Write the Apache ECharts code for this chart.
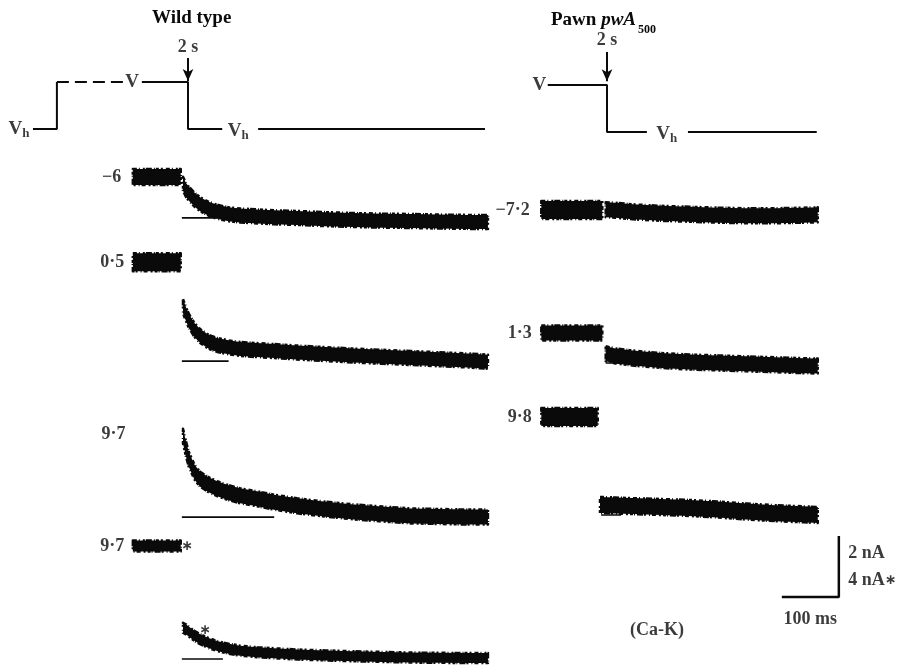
<!DOCTYPE html>
<html><head><meta charset="utf-8">
<script src="https://cdn.jsdelivr.net/npm/echarts@6/dist/echarts.min.js"></script>
<style>html,body{margin:0;padding:0;background:#fff}#c{width:905px;height:667px}</style>
</head><body><div id="c"></div>
<script>
// ---------- data (time in ms relative to the step back to Vh at 2 s; current in nA) ----------
// Wild type
const wtPreTime = [-88, -4];
const wtPostTime = [0, 5, 10, 20, 30, 45, 60, 80, 100, 130, 160, 200, 250, 300, 350, 400, 450, 500, 535];
const wtLabels = ['−6', '0·5', '9·7', '9·7'];
const wtPre_m6 = [1.34, 1.34];
const wtPre_05 = [3.24, 3.24];
const wtPre_97s = [7.4, 7.4];            // trace marked *, 4 nA per scale bar
const wtPost_m6 = [1.12, 0.92, 0.80, 0.60, 0.45, 0.30, 0.20, 0.12, 0.08, 0.05, 0.02, 0.0, -0.04, -0.07, -0.09, -0.10, -0.12, -0.13, -0.13];
const wtPost_05 = [1.80, 1.55, 1.33, 1.02, 0.82, 0.63, 0.53, 0.45, 0.40, 0.36, 0.33, 0.28, 0.23, 0.18, 0.14, 0.10, 0.06, 0.02, -0.02];
const wtPost_97 = [2.65, 2.25, 1.90, 1.48, 1.24, 1.06, 0.93, 0.80, 0.70, 0.60, 0.49, 0.37, 0.26, 0.17, 0.10, 0.04, 0.02, 0.0, 0.0];
const wtPost_97s = [2.05, 1.95, 1.80, 1.52, 1.30, 1.05, 0.85, 0.68, 0.55, 0.45, 0.38, 0.30, 0.24, 0.18, 0.14, 0.10, 0.08, 0.07, 0.07];
// Pawn pwA500
const pwPreTime = [-110, -3];
const pwPre98Time = [-110, -11];
const pwPostTime = [3, 20, 50, 100, 150, 200, 250, 300, 350, 375];
const pwPost98Time = [-7, 20, 50, 100, 150, 200, 250, 300, 350, 375];
const pwLabels = ['−7·2', '1·3', '9·8'];
const pwPre_m72 = [0.26, 0.26];
const pwPre_13 = [0.98, 0.98];
const pwPre_98 = [3.21, 3.21];
const pwPost_m72 = [0.27, 0.25, 0.20, 0.15, 0.12, 0.09, 0.07, 0.07, 0.09, 0.10];
const pwPost_13 = [0.30, 0.23, 0.16, 0.08, 0.03, 0.0, -0.03, -0.06, -0.09, -0.10];
const pwPost_98 = [0.33, 0.31, 0.29, 0.26, 0.23, 0.18, 0.11, 0.06, 0.02, 0.0];
// voltage protocol (0 = Vh, 1 = V), schematic time in ms
const wtProtoHold = [[-272, 0], [-230, 0], [-230, 1]];
const wtProtoBreak = [[-230, 1], [-114, 1]];
const wtProtoStep = [[-81, 1], [0, 1], [0, 0], [60, 0]];
const wtProtoTail = [[123, 0], [521, 0]];
const pwProtoStep = [[-104, 1], [0, 1], [0, 0], [70, 0]];
const pwProtoTail = [[142, 0], [368, 0]];
// scale bar: 100 ms, 2 nA (4 nA for *)
const scaleTime = 100;
const scaleCurrent = 2;

// ---------- layout (not data) ----------
const wtBase = [14.71, 10.02, 4.91, 0.26];   // zero-current level of each trace on the stacked axis
const pwBase = [14.71, 9.96, 4.98];
const starScale = 0.5;
const FONT = 'Liberation Serif';
const INK = '#0a0a0a';
const RAGGED = [4, 2, 1, 3, 2, 1, 6, 2, 1, 1, 3, 2, 2, 3];   // stroke pattern that roughens band edges

function pts(ts, vs, base, k) { return ts.map((t, i) => [t, base + vs[i] * (k || 1)]); }
// noisy current trace: a filled band of w pixels around the recorded mean
function band(gi, data, w) {
  return { type: 'custom', xAxisIndex: gi, yAxisIndex: gi, silent: true, animation: false, z: 3,
    data: [data[0]],
    renderItem: (params, api) => {
      const c = data.map(p => api.coord(p));
      const up = c.map(q => [q[0], q[1] - w / 2]);
      const lo = c.map(q => [q[0], q[1] + w / 2]).reverse();
      return { type: 'polygon', shape: { points: up.concat(lo) },
        style: { fill: INK, stroke: INK, lineWidth: 2.5, lineDash: RAGGED, lineJoin: 'round' } };
    } };
}
function thin(gi, data, w, extra) {
  return Object.assign({ type: 'line', xAxisIndex: gi, yAxisIndex: gi, data, symbol: 'none', silent: true,
    lineStyle: Object.assign({ color: INK, width: w, cap: 'butt' }, extra || {}), z: 2, animation: false });
}
const rich = {
  v: { fontFamily: FONT, fontSize: 19, color: INK, fontWeight: 'bold' },
  s: { fontFamily: FONT, fontSize: 13, color: INK, verticalAlign: 'bottom', padding: [0, 0, -2, 0], fontWeight: 'bold' },
  st: { fontFamily: 'DejaVu Sans', fontSize: 14, fontWeight: 'bold', color: INK }
};
function labels(gi, items) {
  return { type: 'scatter', xAxisIndex: gi, yAxisIndex: gi, symbolSize: 1, silent: true, animation: false,
    itemStyle: { color: 'rgba(0,0,0,0)' }, z: 5,
    data: items.map(it => ({ value: it.v, label: Object.assign({ show: true, formatter: it.f, color: INK,
      fontFamily: FONT, fontSize: 18, fontWeight: 'bold', rich: rich }, it.l) })) };
}

const series = [];
// --- wild type protocol (grid 0)
series.push(thin(0, wtProtoHold, 2));
series.push(thin(0, wtProtoBreak, 2, { type: [12, 6] }));
series.push(Object.assign(thin(0, wtProtoStep, 2), {
  markLine: { silent: true, symbol: ['none', 'arrow'], symbolSize: [8, 12], animation: false,
    lineStyle: { color: INK, width: 2, type: 'solid' }, label: { show: false },
    data: [[{ coord: [0, 1.51] }, { coord: [0, 1.02] }]] }
}));
series.push(thin(0, wtProtoTail, 2));
series.push(labels(0, [
  { v: [-272, 0], f: '{v|V}{s|h}', l: { position: 'left', distance: 3 } },
  { v: [-98, 1], f: '{v|V}', l: { position: 'inside' } },
  { v: [88, 0], f: '{v|V}{s|h}', l: { position: 'inside', offset: [0, 2] } },
  { v: [0, 1.74], f: '2 s', l: { position: 'inside' } }
]));
// --- pawn protocol (grid 2)
series.push(Object.assign(thin(2, pwProtoStep, 2), {
  markLine: { silent: true, symbol: ['none', 'arrow'], symbolSize: [8, 12], animation: false,
    lineStyle: { color: INK, width: 2, type: 'solid' }, label: { show: false },
    data: [[{ coord: [0, 1.7] }, { coord: [0, 1.08] }]] }
}));
series.push(thin(2, pwProtoTail, 2));
series.push(labels(2, [
  { v: [-104, 1], f: '{v|V}', l: { position: 'left', distance: 1 } },
  { v: [105, 0], f: '{v|V}{s|h}', l: { position: 'inside', offset: [0, 2] } },
  { v: [0, 1.96], f: '2 s', l: { position: 'inside' } }
]));

// --- wild type traces (grid 1)
const wtBaseEnd = [60, 80, 160, 70];
wtBase.forEach((b, i) => series.push(thin(1, [[-2, b], [wtBaseEnd[i], b]], 1.6)));
series.push(band(1, pts(wtPreTime, wtPre_m6, wtBase[0]), 16));
series.push(band(1, pts(wtPostTime, wtPost_m6, wtBase[0]), 14));
series.push(band(1, pts(wtPreTime, wtPre_05, wtBase[1]), 18));
series.push(band(1, pts(wtPostTime, wtPost_05, wtBase[1]), 14));
series.push(band(1, pts(wtPostTime, wtPost_97, wtBase[2]), 15));
series.push(band(1, pts(wtPreTime, wtPre_97s, wtBase[3], starScale), 11));
series.push(band(1, pts(wtPostTime, wtPost_97s, wtBase[3], starScale), 10));
series.push(labels(1, [
  { v: [wtPreTime[0], wtBase[0] + wtPre_m6[0]], f: wtLabels[0], l: { position: 'left', distance: 11 } },
  { v: [wtPreTime[0], wtBase[1] + wtPre_05[0]], f: wtLabels[1], l: { position: 'left', distance: 8 } },
  { v: [-100, wtBase[2] + 2.7], f: wtLabels[2], l: { position: 'left', distance: 0 } },
  { v: [wtPreTime[0], wtBase[3] + wtPre_97s[0] * starScale], f: wtLabels[3], l: { position: 'left', distance: 8 } },
  { v: [wtPreTime[1], wtBase[3] + wtPre_97s[0] * starScale], f: '{st|∗}', l: { position: 'right', distance: 0 } },
  { v: [39, wtBase[3] + 1.9 * starScale], f: '{st|∗}', l: { position: 'inside' } }
]));

// --- pawn traces (grid 3)
series.push(thin(3, [[3, pwBase[1]], [40, pwBase[1]]], 1.6));
series.push(thin(3, [[-5, pwBase[2]], [30, pwBase[2]]], 1.6));
series.push(band(3, pts(pwPreTime, pwPre_m72, pwBase[0]), 18));
series.push(band(3, pts(pwPostTime, pwPost_m72, pwBase[0]), 15));
series.push(band(3, pts(pwPreTime, pwPre_13, pwBase[1]), 15));
series.push(band(3, pts(pwPostTime, pwPost_13, pwBase[1]), 15));
series.push(band(3, pts(pwPre98Time, pwPre_98, pwBase[2]), 18));
series.push(band(3, pts(pwPost98Time, pwPost_98, pwBase[2]), 16));
// scale bar
const sbX0 = 312, sbY0 = 2.29;
series.push(thin(3, [[sbX0, sbY0], [sbX0 + scaleTime, sbY0], [sbX0 + scaleTime, sbY0 + scaleCurrent]], 2.5));
series.push(labels(3, [
  { v: [pwPreTime[0], pwBase[0] + pwPre_m72[0]], f: pwLabels[0], l: { position: 'left', distance: 11 } },
  { v: [pwPreTime[0], pwBase[1] + pwPre_13[0]], f: pwLabels[1], l: { position: 'left', distance: 9 } },
  { v: [pwPreTime[0], pwBase[2] + pwPre_98[0]], f: pwLabels[2], l: { position: 'left', distance: 9 } },
  { v: [sbX0 + scaleTime, sbY0 + 1.44], f: scaleCurrent + ' nA', l: { position: 'right', distance: 9 } },
  { v: [sbX0 + scaleTime, sbY0 + 0.56], f: (scaleCurrent / starScale) + ' nA{st|∗}', l: { position: 'right', distance: 9 } },
  { v: [sbX0 + scaleTime / 2, sbY0], f: scaleTime + ' ms', l: { position: 'bottom', distance: 13 } },
  { v: [93, 1.21], f: '(Ca-K)', l: { position: 'inside' } }
]));

const axisOff = { show: false };
const option = {
  backgroundColor: '#fff',
  animation: false,
  grid: [
    { left: 17, top: 35, width: 490.2, height: 94 },
    { left: 126, top: 148, width: 376.2, height: 519 },
    { left: 538.6, top: 38, width: 307.8, height: 94 },
    { left: 535.6, top: 148, width: 307.8, height: 519 }
  ],
  xAxis: [
    Object.assign({ type: 'value', gridIndex: 0, min: -300, max: 560 }, axisOff),
    Object.assign({ type: 'value', gridIndex: 1, min: -100, max: 560 }, axisOff),
    Object.assign({ type: 'value', gridIndex: 2, min: -120, max: 420 }, axisOff),
    Object.assign({ type: 'value', gridIndex: 3, min: -120, max: 420 }, axisOff)
  ],
  yAxis: [
    Object.assign({ type: 'value', gridIndex: 0, min: 0, max: 2 }, axisOff),
    Object.assign({ type: 'value', gridIndex: 1, min: 0, max: 17 }, axisOff),
    Object.assign({ type: 'value', gridIndex: 2, min: 0, max: 2 }, axisOff),
    Object.assign({ type: 'value', gridIndex: 3, min: 0, max: 17 }, axisOff)
  ],
  graphic: [
    { type: 'text', left: 152, top: 9, style: { text: 'Wild type', fontFamily: FONT, fontSize: 19, fontWeight: 'bold', fill: INK } },
    { type: 'text', left: 551, top: 11, style: { text: '{a|Pawn }{b|pwA}{c|500}', fill: INK,
      rich: { a: { fontFamily: FONT, fontSize: 19, fontWeight: 'bold', fill: INK },
              b: { fontFamily: FONT, fontSize: 19, fontStyle: 'italic', fontWeight: 'bold', fill: INK },
              c: { fontFamily: FONT, fontSize: 12, fontWeight: 'bold', fill: INK, verticalAlign: 'bottom', padding: [0, 0, -6, 2] } } } }
  ],
  series
};
echarts.init(document.getElementById('c'), null, { renderer: 'canvas' }).setOption(option);
</script></body></html>
